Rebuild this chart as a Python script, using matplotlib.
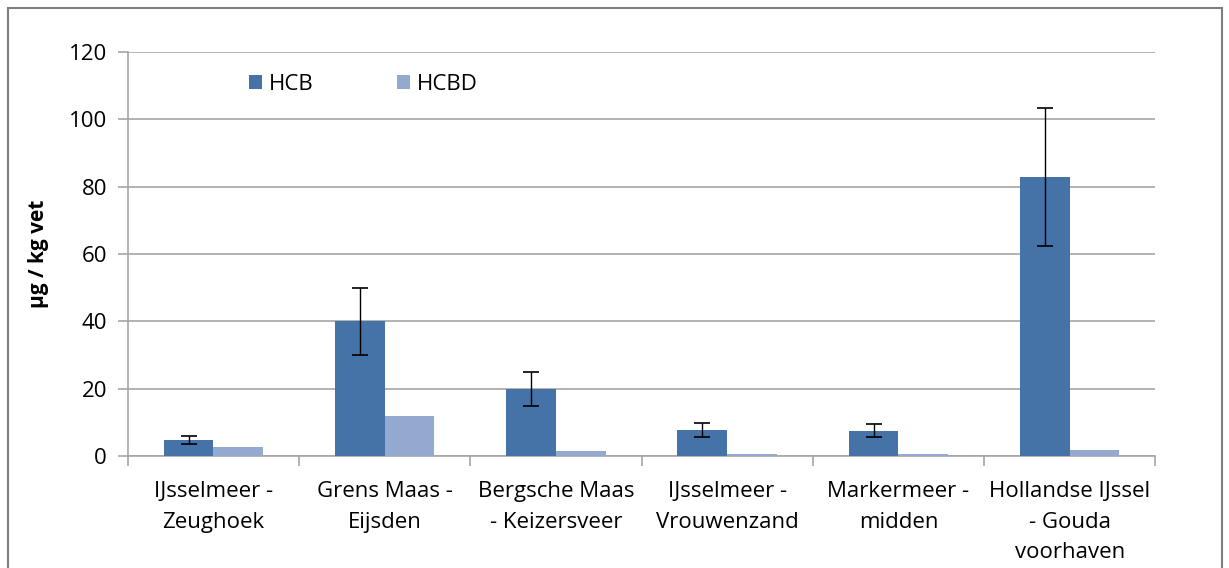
import numpy as np
import matplotlib
matplotlib.use("Agg")
import matplotlib.pyplot as plt
from matplotlib.patches import Rectangle

# gegevens
locaties = ["IJsselmeer -\nZeughoek", "Grens Maas -\nEijsden", "Bergsche Maas\n- Keizersveer",
            "IJsselmeer -\nVrouwenzand", "Markermeer -\nmidden", "Hollandse IJssel\n- Gouda\nvoorhaven"]
hcb = [4.8, 40, 20, 7.8, 7.5, 83]
hcb_fout = [1.2, 10, 5, 2.0, 1.9, 20.5]
hcbd = [2.7, 12, 1.5, 0.7, 0.6, 1.8]

plt.rcParams['font.family'] = ['Open Sans', 'DejaVu Sans']

fig = plt.figure(figsize=(12.29, 5.68), dpi=100)
ax = fig.add_axes([0.104, 0.197, 0.836, 0.7115])

x = np.arange(len(locaties))
w = 0.29
grijs = "#a6a6a6"

ax.bar(x - w/2, hcb, w, color="#4572a7", label="HCB", zorder=3,
       yerr=hcb_fout, error_kw=dict(ecolor="black", elinewidth=1, capsize=6, capthick=1.2))
ax.bar(x + w/2, hcbd, w, color="#93a9cf", label="HCBD", zorder=3)

ax.set_xlim(-0.5, len(locaties) - 0.5)
ax.set_ylim(0, 120)
ax.set_yticks(range(0, 121, 20))
ax.set_xticks(x)
ax.set_xticklabels(locaties, fontsize=16, linespacing=1.6)
ax.set_xticks(np.arange(-0.5, len(locaties)), minor=True)
ax.tick_params(axis="x", which="major", length=0, pad=18)
ax.tick_params(axis="x", which="minor", length=7, color=grijs, width=1.2)
ax.tick_params(axis="y", length=7, color=grijs, width=1.2, labelsize=16, pad=8)

ax.grid(axis="y", color=grijs, linewidth=1.2, zorder=0)
for s in ["top", "right"]:
    ax.spines[s].set_visible(False)
for s in ["left", "bottom"]:
    ax.spines[s].set_color(grijs)
    ax.spines[s].set_linewidth(1.2)

ax.set_ylabel("µg / kg vet", fontsize=15, fontweight="bold", labelpad=14)

ax.legend(loc="upper left", bbox_to_anchor=(0.098, 0.995), ncol=2, frameon=False,
          fontsize=16, handlelength=0.6, handleheight=0.6, handletextpad=0.3,
          columnspacing=3.75)

# kader rond de figuur
fig.patches.append(Rectangle((8/1229, -0.1), 1214/1229, 1.1 - 8/568, transform=fig.transFigure,
                             fill=False, edgecolor="#7f7f7f", linewidth=1.5))

fig.savefig("out.png", dpi=100)
